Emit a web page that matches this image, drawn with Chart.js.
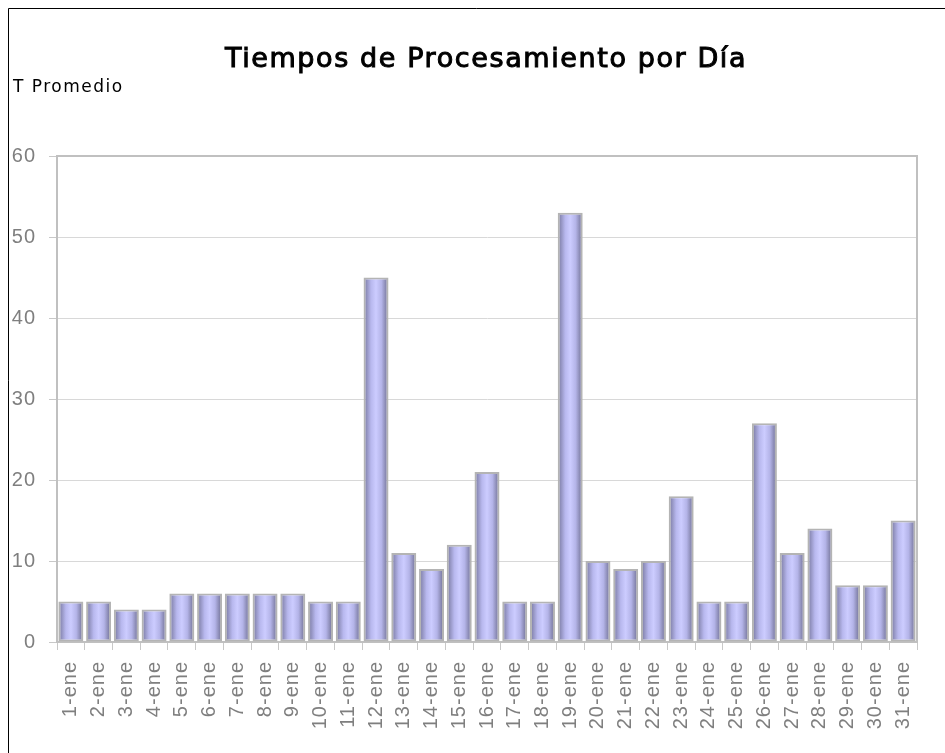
<!DOCTYPE html>
<html>
<head>
<meta charset="utf-8">
<script src="https://cdn.jsdelivr.net/npm/chart.js@4/dist/chart.umd.min.js"></script>
<style>
  html, body { margin: 0; padding: 0; background: #fff; }
  #wrap { position: relative; width: 945px; height: 753px; }
</style>
</head>
<body>
<div id="wrap"><canvas id="chart"></canvas></div>
<script>
// days of january
const dias = ['1-ene', '2-ene', '3-ene', '4-ene', '5-ene', '6-ene', '7-ene', '8-ene', '9-ene', '10-ene',
  '11-ene', '12-ene', '13-ene', '14-ene', '15-ene', '16-ene', '17-ene', '18-ene', '19-ene', '20-ene',
  '21-ene', '22-ene', '23-ene', '24-ene', '25-ene', '26-ene', '27-ene', '28-ene', '29-ene', '30-ene', '31-ene'];

// average processing time per day
const tPromedio = [5, 5, 4, 4, 6, 6, 6, 6, 6, 5,
  5, 45, 11, 9, 12, 21, 5, 5, 53, 10,
  9, 10, 18, 5, 5, 27, 11, 14, 7, 7, 15];

const titulo = 'Tiempos de Procesamiento por Día';
const ejeY = 'T Promedio';

// gives every bar its own left-to-right gradient (dark edges, light middle)
const barGradient = {
  id: 'barGradient',
  beforeDatasetsDraw(chart) {
    const ctx = chart.ctx;
    chart.getDatasetMeta(0).data.forEach(el => {
      const { x, width } = el.getProps(['x', 'width'], true);
      const g = ctx.createLinearGradient(x - width / 2, 0, x + width / 2, 0);
      g.addColorStop(0, '#74749a');
      g.addColorStop(0.3, '#b8b8ee');
      g.addColorStop(0.5, '#ccccff');
      g.addColorStop(0.72, '#b4b4e8');
      g.addColorStop(1, '#6a6a8c');
      el.options = Object.assign({}, el.options, { backgroundColor: g });
    });
  }
};

// the original tick text is a bit spread out
const spacing = {
  id: 'spacing',
  beforeDraw(chart) { chart.ctx.letterSpacing = '1px'; },
  afterDraw(chart) { chart.ctx.letterSpacing = '0px'; }
};

// title, axis caption, plot frame and outer frame
const decor = {
  id: 'decor',
  afterDraw(chart) {
    const ctx = chart.ctx;
    const a = chart.chartArea;
    ctx.save();
    ctx.strokeStyle = '#c0c0c0';
    ctx.lineWidth = 2;
    ctx.beginPath();
    ctx.moveTo(a.left, a.top);
    ctx.lineTo(a.right, a.top);
    ctx.lineTo(a.right, a.bottom);
    ctx.stroke();

    ctx.strokeStyle = '#000';
    ctx.lineWidth = 1;
    ctx.beginPath();
    ctx.moveTo(8.5, 753);
    ctx.lineTo(8.5, 8.5);
    ctx.lineTo(945, 8.5);
    ctx.stroke();

    ctx.fillStyle = '#000';
    ctx.strokeStyle = '#000';
    ctx.textBaseline = 'alphabetic';
    ctx.textAlign = 'center';
    ctx.letterSpacing = '1.6px';
    ctx.font = '27px "DejaVu Sans"';
    ctx.fillText(titulo, 486, 67);
    ctx.lineWidth = 1;
    ctx.strokeText(titulo, 486, 67);
    ctx.textAlign = 'left';
    ctx.textBaseline = 'middle';
    ctx.letterSpacing = '1.5px';
    ctx.font = '17px "DejaVu Sans"';
    ctx.fillText(ejeY, 13, 88);
    ctx.restore();
  }
};

new Chart(document.getElementById('chart'), {
  type: 'bar',
  data: {
    labels: dias,
    datasets: [{
      label: ejeY,
      data: tPromedio,
      backgroundColor: '#ccccff',
      borderColor: '#b4b4b4',
      borderWidth: 2,
      borderSkipped: false,
      barPercentage: 0.9,
      categoryPercentage: 1
    }]
  },
  options: {
    responsive: true,
    maintainAspectRatio: false,
    animation: false,
    layout: { padding: { top: 156, right: 28, left: 0, bottom: 0 } },
    plugins: {
      legend: { display: false },
      tooltip: { enabled: false }
    },
    scales: {
      x: {
        grid: { offset: true, drawOnChartArea: false, tickLength: 8, color: '#c8c8c8' },
        border: { color: '#c0c0c0', width: 2 },
        ticks: {
          minRotation: 90, maxRotation: 90, padding: 11,
          color: '#7f7f7f',
          font: { family: '"Liberation Sans"', size: 20 }
        },
        afterFit(scale) { scale.height = 111; }
      },
      y: {
        min: 0, max: 60,
        grid: { color: '#d8d8d8', tickLength: 8, tickColor: '#c8c8c8' },
        border: { color: '#c0c0c0', width: 2 },
        ticks: {
          stepSize: 10, padding: 13,
          color: '#7f7f7f',
          font: { family: '"Liberation Sans"', size: 20 }
        },
        afterFit(scale) { scale.width = 57; }
      }
    }
  },
  plugins: [barGradient, spacing, decor]
});
</script>
</body>
</html>
